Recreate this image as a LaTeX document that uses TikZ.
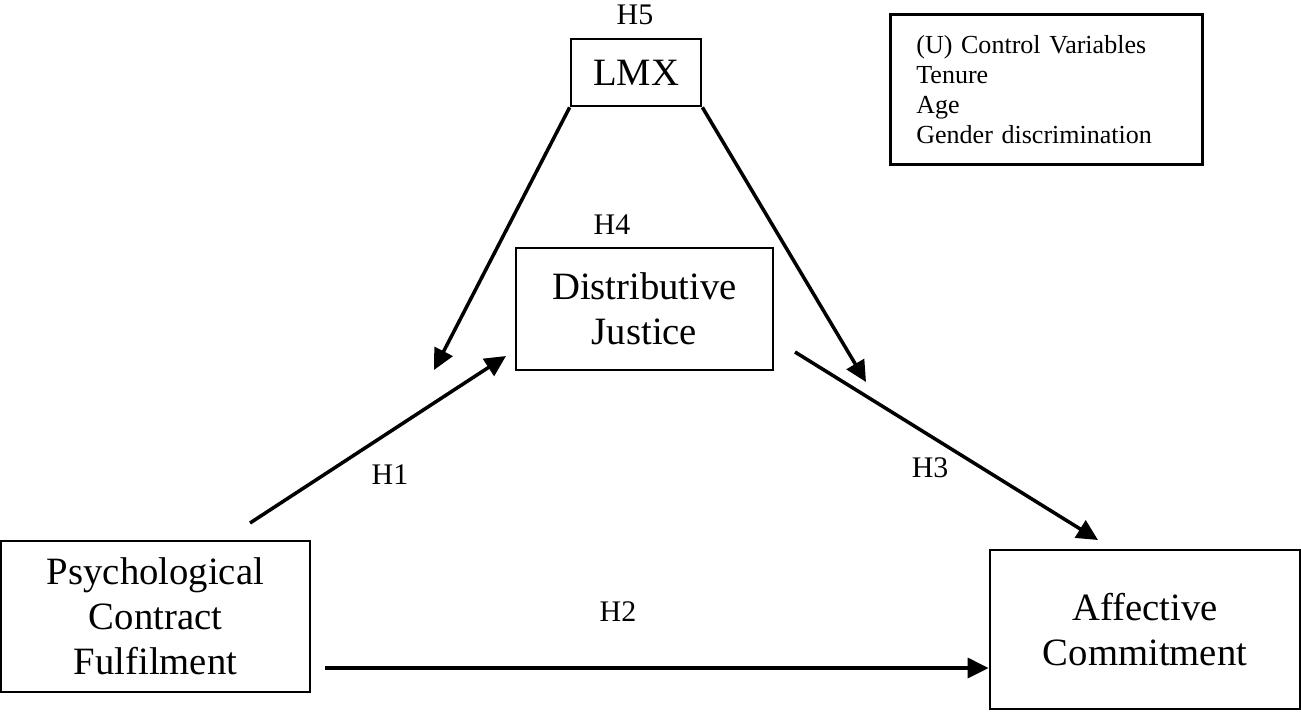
\documentclass[tikz,border=0pt]{standalone}
\usepackage{fontspec}
\setmainfont{Liberation Serif}
\usetikzlibrary{arrows.meta}
\tikzset{
  box/.style={draw, line width=0.75pt, align=center, inner sep=0pt,
    font=\fontsize{11}{12.8}\selectfont},
  hyp/.style={font=\fontsize{8.5}{10}\selectfont, inner sep=0pt},
  link/.style={line width=1pt, -{Triangle[length=2.1mm,width=2mm]}},
}
\begin{document}
\begin{tikzpicture}[x=0.01cm,y=-0.01cm]
    \useasboundingbox (0,0) rectangle (1301,711);
    % ── constructs ───────────────────────────────────────
    \node[box, minimum width=1.3cm, minimum height=0.67cm] (lmx) at (636,72.5) {LMX};
    \node[box, minimum width=2.57cm, minimum height=1.22cm] (dj) at (644.5,309) {Distributive\\Justice};
    \node[box, minimum width=3.09cm, minimum height=1.51cm] (pcf) at (155.5,616.5) {Psychological\\Contract\\Fulfilment};
    \node[box, minimum width=3.1cm, minimum height=1.59cm] (ac) at (1145,629.5) {Affective\\Commitment};
    % control variables
    \node[draw, line width=0.75pt, anchor=north west, align=left, text width=2.6cm,
          inner xsep=0.26cm, minimum height=1.5cm, font=\fontsize{7.4}{8.5}\selectfont]
          (ctrl) at (889,13) {(U) Control Variables\\Tenure\\Age\\Gender discrimination};
    % ── hypotheses ───────────────────────────────────────
    \node[hyp] (h5) at (635,15) {H5};
    \node[hyp] (h4) at (612,225) {H4};
    \node[hyp] (h1) at (390,475) {H1};
    \node[hyp] (h3) at (930,468) {H3};
    \node[hyp] (h2) at (618,612) {H2};
    % free ends of the paths
    \coordinate (m1) at (434,370);
    \coordinate (m3) at (866,382);
    \coordinate (p1) at (250,523);
    \coordinate (d1) at (506,356);
    \coordinate (d3) at (795,352);
    \coordinate (a3) at (1098,540);
    \coordinate (p2) at (325,668);
    % ── paths ────────────────────────────────────────────
    \draw[link] (lmx.south west) -- (m1);
    \draw[link] (lmx.south east) -- (m3);
    \draw[link] (p1) -- (d1);
    \draw[link] (d3) -- (a3);
    \draw[link] (p2) -- (p2 -| ac.west);
\end{tikzpicture}
\end{document}
